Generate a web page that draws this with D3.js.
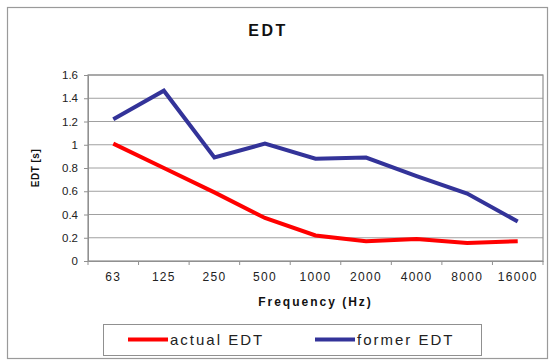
<!DOCTYPE html>
<html><head><meta charset="utf-8">
<script src="https://cdn.jsdelivr.net/npm/d3@7"></script>
<style>body{margin:0;background:#fff;}svg{display:block;}text{font-family:"Liberation Sans",Arial,sans-serif;}</style>
</head><body>
<script>
const categories = ["63","125","250","500","1000","2000","4000","8000","16000"];
const actualEDT = [1.01, 0.80, 0.59, 0.37, 0.22, 0.17, 0.19, 0.155, 0.17];
const formerEDT = [1.22, 1.465, 0.89, 1.01, 0.88, 0.89, 0.73, 0.58, 0.34];
const yTicks = [0, 0.2, 0.4, 0.6, 0.8, 1, 1.2, 1.4, 1.6];
const seriesNames = ["actual EDT", "former EDT"];
const colors = ["#ff0000", "#333399"];

const W = 552, H = 361;
const svg = d3.select("body").append("svg").attr("width", W).attr("height", H);
svg.append("rect").attr("x", 7.5).attr("y", 7.5).attr("width", 540).attr("height", 351)
  .attr("fill", "#fff").attr("stroke", "#9a9a9a").attr("stroke-width", 1.2);

const L = 88, R = 543, T = 75, B = 261;
const x = d3.scaleBand().domain(categories).range([L, R]);
const y = d3.scaleLinear().domain([0, 1.6]).range([B, T]);

// gridlines
svg.append("g").selectAll("line").data(yTicks.slice(1)).join("line")
  .attr("x1", L).attr("x2", R).attr("y1", d => y(d)).attr("y2", d => y(d))
  .attr("stroke", "#a0a0a0").attr("stroke-width", 1);
svg.append("rect").attr("x", L).attr("y", T).attr("width", R - L).attr("height", B - T)
  .attr("fill", "none").attr("stroke", "#909090").attr("stroke-width", 1.2);

// y axis
const ya = svg.append("g").attr("transform", `translate(${L},0)`)
  .call(d3.axisLeft(y).tickValues(yTicks).tickSize(4).tickPadding(6).tickFormat(d => String(d)));
ya.select(".domain").attr("stroke", "#909090");
ya.selectAll(".tick line").attr("stroke", "#909090");
ya.selectAll("text").attr("font-size", 11.5).attr("fill", "#222").style("font-family", '"Liberation Sans",Arial,sans-serif');

// x axis
const xa = svg.append("g").attr("transform", `translate(0,${B})`)
  .call(d3.axisBottom(x).tickSize(0).tickPadding(11));
xa.select(".domain").attr("stroke", "#909090");
xa.selectAll("text").attr("font-size", 12).attr("fill", "#222").attr("letter-spacing", "1.3px")
  .style("font-family", '"Liberation Sans",Arial,sans-serif');
svg.append("g").selectAll("line").data(categories.concat(["_end"])).join("line")
  .attr("x1", (d, i) => L + i * x.step()).attr("x2", (d, i) => L + i * x.step())
  .attr("y1", B).attr("y2", B + 4).attr("stroke", "#909090");

// lines
const line = d3.line().x((d, i) => x(categories[i]) + x.bandwidth() / 2).y(d => y(d));
[actualEDT, formerEDT].forEach((s, k) => {
  svg.append("path").datum(s).attr("d", line).attr("fill", "none")
    .attr("stroke", colors[k]).attr("stroke-width", 4).attr("stroke-linejoin", "miter");
});

// titles
svg.append("text").attr("x", 268).attr("y", 36).attr("text-anchor", "middle")
  .attr("font-size", 16).attr("font-weight", "bold").attr("letter-spacing", "2.5px").attr("fill", "#111").text("EDT");
svg.append("text").attr("transform", `translate(39,${(T + B) / 2}) rotate(-90)`).attr("text-anchor", "middle")
  .attr("font-size", 10).attr("font-weight", "bold").attr("letter-spacing", "0.5px").attr("fill", "#111").text("EDT [s]");
svg.append("text").attr("x", (L + R) / 2).attr("y", 306).attr("text-anchor", "middle")
  .attr("font-size", 12).attr("font-weight", "bold").attr("letter-spacing", "2px").attr("fill", "#111").text("Frequency (Hz)");

// legend
svg.append("rect").attr("x", 103.5).attr("y", 324.5).attr("width", 378).attr("height", 31)
  .attr("fill", "#fff").attr("stroke", "#909090").attr("stroke-width", 1);
const lx = [128, 315];
seriesNames.forEach((n, k) => {
  svg.append("line").attr("x1", lx[k]).attr("x2", lx[k] + 40).attr("y1", 339.5).attr("y2", 339.5)
    .attr("stroke", colors[k]).attr("stroke-width", 4);
  svg.append("text").attr("x", lx[k] + 42).attr("y", 345).attr("font-size", 15).attr("letter-spacing", "2px")
    .attr("fill", "#222").text(n);
});
</script>
</body></html>
